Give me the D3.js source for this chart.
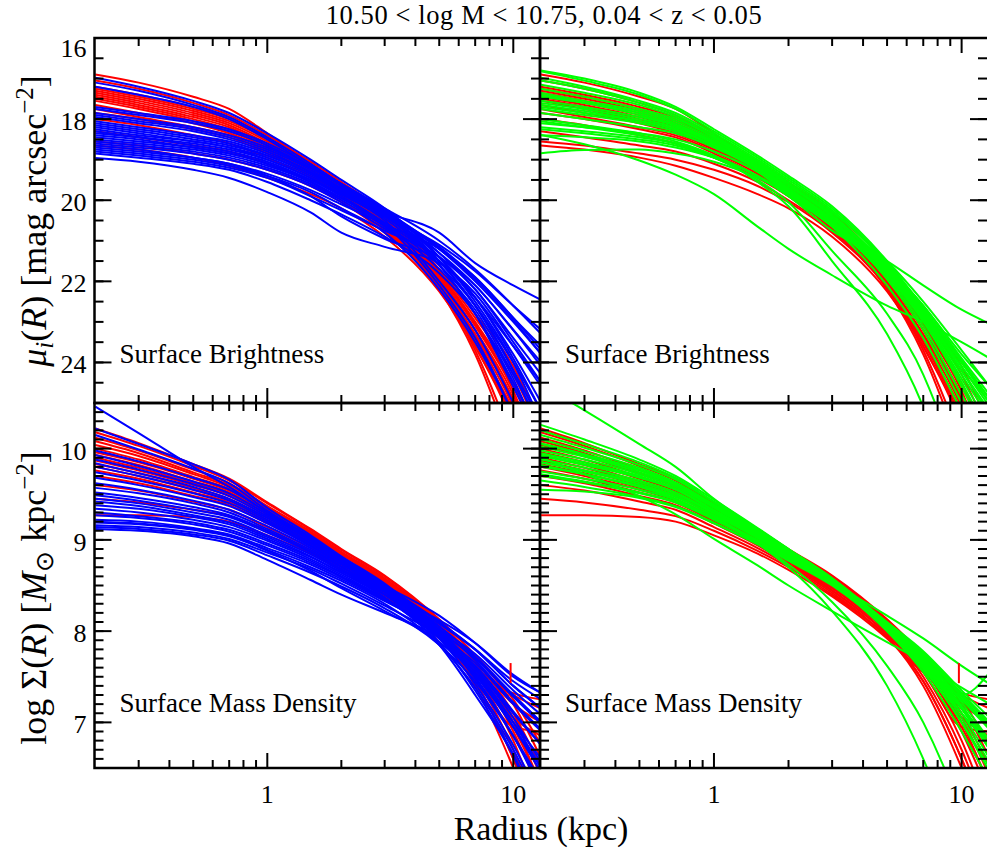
<!DOCTYPE html>
<html>
<head>
<meta charset="utf-8">
<script src="https://cdn.jsdelivr.net/npm/d3@7"></script>
<style>
body { margin: 0; background: #fff; overflow: hidden; }
svg { display: block; font-family: "Liberation Serif", "Times New Roman", serif; }
</style>
</head>
<body>
<div id="chart"></div>
<script>
// Size of the whole picture
var width = 987;
var height = 850;

var radius = [0.2, 0.3, 0.5, 0.7, 1, 1.5, 2, 3, 5, 7, 10, 13];

// Surface brightness profiles, mag arcsec^-2
var redSB = [
  [16.90,17.10,17.45,17.75,18.35,19.10,19.60,20.35,21.75,22.90,24.30,25.80],
  [17.05,17.25,17.60,17.90,18.40,19.05,19.55,20.30,21.70,22.80,24.10,25.60],
  [17.20,17.40,17.70,17.95,18.45,19.10,19.60,20.40,21.80,23.00,24.50,26.00],
  [17.25,17.45,17.75,18.00,18.50,19.15,19.65,20.45,21.85,23.10,24.70,26.50],
  [17.30,17.50,17.80,18.05,18.50,19.15,19.70,20.50,21.90,23.20,25.00,27.00],
  [17.35,17.55,17.85,18.10,18.55,19.20,19.70,20.50,21.85,23.05,24.60,26.00],
  [17.40,17.60,17.90,18.15,18.60,19.20,19.75,20.55,22.00,23.40,25.30,27.00],
  [17.45,17.65,17.95,18.20,18.65,19.25,19.75,20.55,21.95,23.20,24.80,26.50],
  [17.50,17.70,18.00,18.25,18.65,19.25,19.80,20.60,22.05,23.50,25.50,28.00],
  [17.55,17.75,18.05,18.30,18.70,19.30,19.80,20.60,22.00,23.30,24.90,26.50],
  [17.65,17.85,18.10,18.35,18.75,19.30,19.85,20.65,22.10,23.60,25.60,28.00],
  [17.75,17.95,18.20,18.40,18.80,19.35,19.85,20.65,22.05,23.35,25.00,27.00],
  [17.85,18.00,18.25,18.45,18.85,19.40,19.90,20.70,22.15,23.70,26.00,28.00],
  [18.00,18.15,18.40,18.60,18.95,19.45,19.90,20.70,22.10,23.40,25.10,27.00],
  [18.30,18.45,18.65,18.80,19.10,19.55,20.00,20.75,22.20,23.80,26.20,28.00],
  [18.55,18.65,18.85,19.00,19.25,19.65,20.05,20.80,22.15,23.50,25.20,27.00],
  [18.65,18.75,18.95,19.15,19.45,19.85,20.20,20.90,22.25,23.60,25.40,27.00]
];

var blueSB = [
  [16.98,17.20,17.55,17.85,18.35,19.00,19.50,20.20,21.40,22.50,24.00,25.50],
  [17.10,17.30,17.65,17.95,18.45,19.10,19.60,20.35,21.60,22.80,24.40,26.00],
  [17.20,17.40,17.70,18.00,18.50,19.15,19.60,20.30,21.50,22.60,24.20,25.80],
  [17.70,17.85,18.05,18.25,18.60,19.15,19.60,20.25,21.20,22.00,23.00,23.80],
  [17.75,17.90,18.10,18.30,18.65,19.20,19.65,20.30,21.30,22.20,23.40,24.30],
  [17.85,18.00,18.20,18.40,18.70,19.20,19.60,20.20,21.00,21.70,22.60,23.30],
  [17.90,18.05,18.25,18.45,18.75,19.25,19.70,20.35,21.40,22.40,23.80,25.00],
  [17.95,18.10,18.30,18.50,18.80,19.30,19.70,20.30,21.15,21.90,22.90,23.70],
  [18.05,18.20,18.40,18.55,18.85,19.30,19.75,20.40,21.50,22.60,24.20,25.50],
  [18.10,18.25,18.45,18.60,18.90,19.35,19.75,20.35,21.20,21.95,22.95,23.80],
  [18.15,18.30,18.50,18.65,18.90,19.35,19.80,20.45,21.60,22.80,24.60,26.00],
  [18.20,18.35,18.55,18.70,18.95,19.40,19.80,20.40,21.30,22.10,23.20,24.10],
  [18.25,18.40,18.55,18.70,19.00,19.45,19.85,20.50,22.00,23.20,25.00,26.50],
  [18.30,18.45,18.60,18.75,19.00,19.45,19.85,20.40,21.10,21.75,22.60,23.20],
  [18.35,18.45,18.65,18.80,19.05,19.50,19.90,20.55,21.50,22.40,23.60,24.50],
  [18.40,18.50,18.70,18.85,19.10,19.55,19.95,20.60,22.10,23.40,25.30,27.00],
  [18.45,18.55,18.70,18.85,19.10,19.50,19.85,20.30,20.80,21.55,22.10,22.46],
  [18.50,18.60,18.75,18.90,19.15,19.55,19.95,20.60,21.60,22.60,24.00,25.20],
  [18.55,18.65,18.80,18.95,19.20,19.60,20.00,20.65,21.70,22.70,24.30,25.60],
  [18.60,18.70,18.85,19.00,19.25,19.65,20.05,20.70,21.40,22.10,23.20,24.00],
  [18.70,18.80,18.95,19.10,19.35,19.75,20.10,20.60,21.20,21.90,22.90,23.60],
  [18.75,18.85,19.00,19.15,19.40,19.80,20.20,20.80,22.20,23.50,25.30,27.00],
  [18.80,18.90,19.05,19.20,19.45,19.90,20.25,20.75,21.40,22.20,23.50,24.50],
  [18.85,18.95,19.10,19.25,19.55,20.00,20.35,20.90,21.80,22.80,24.50,25.80],
  [18.96,19.05,19.25,19.45,19.80,20.30,20.80,21.15,21.55,22.30,23.60,24.60],
  [18.65,18.75,18.95,19.10,19.40,19.90,20.40,20.95,21.50,22.40,23.90,25.20]
];

var greenSB = [
  [16.82,17.05,17.40,17.75,18.30,18.95,19.45,20.20,21.55,22.70,24.00,25.00],
  [16.98,17.20,17.55,17.85,18.35,19.00,19.50,20.25,21.60,22.75,24.10,25.10],
  [17.05,17.25,17.60,17.90,18.40,19.05,19.55,20.30,21.50,22.50,23.70,24.60],
  [17.15,17.35,17.65,17.95,18.45,19.05,19.60,20.35,21.65,22.80,24.20,25.30],
  [17.25,17.45,17.75,18.00,18.45,19.10,19.60,20.40,21.60,22.60,23.80,24.60],
  [17.35,17.55,17.80,18.05,18.50,19.10,19.65,20.40,21.70,22.85,24.30,25.40],
  [17.45,17.60,17.85,18.10,18.55,19.15,19.70,20.45,21.65,22.70,24.00,24.90],
  [17.55,17.70,17.95,18.15,18.55,19.15,19.70,20.50,21.75,22.90,24.40,25.60],
  [17.60,17.75,18.00,18.20,18.60,19.20,19.75,20.50,21.70,22.75,24.10,25.00],
  [17.70,17.85,18.05,18.25,18.65,19.20,19.75,20.55,21.80,22.95,24.50,25.80],
  [17.75,17.90,18.10,18.30,18.65,19.25,19.80,20.55,21.65,22.60,23.90,24.80],
  [17.85,18.00,18.20,18.35,18.70,19.25,19.80,20.60,21.85,23.00,24.60,26.00],
  [18.10,18.20,18.35,18.50,18.80,19.30,19.85,20.60,21.70,22.70,24.00,24.90],
  [18.20,18.30,18.45,18.60,18.90,19.40,19.90,20.75,21.50,22.10,22.70,23.05],
  [18.40,18.45,18.55,18.70,18.95,19.40,19.85,20.60,21.75,22.80,24.20,25.20],
  [18.84,18.76,18.75,18.85,19.05,19.45,19.85,20.55,21.70,22.80,24.20,25.30],
  [18.39,18.62,19.02,19.37,19.85,20.65,21.20,21.85,22.60,23.00,23.50,23.90],
  [18.00,18.15,18.35,18.55,18.90,19.55,20.15,21.50,23.30,25.10,28.00,31.00],
  [18.05,18.20,18.40,18.60,18.95,19.50,20.05,21.25,22.80,24.30,27.00,30.00],
  [17.40,17.60,17.90,18.15,18.60,19.25,19.80,20.65,22.10,23.40,25.20,26.50],
  [17.65,17.80,18.05,18.25,18.65,19.25,19.80,20.60,21.95,23.20,25.00,26.30],
  [18.25,18.35,18.50,18.65,18.95,19.40,19.90,20.65,21.90,23.10,24.80,26.00],
  [16.80,17.00,17.35,17.70,18.25,18.90,19.40,20.15,21.50,22.65,23.95,24.90]
];

// Surface mass density profiles, log M_sun kpc^-2
var redMass = [
  [10.22,10.06,9.83,9.67,9.41,9.12,8.90,8.61,8.13,7.73,7.20,6.60],
  [10.18,10.03,9.81,9.65,9.40,9.11,8.89,8.60,8.12,7.74,7.25,6.75],
  [10.12,9.98,9.77,9.62,9.37,9.09,8.87,8.58,8.10,7.68,7.10,6.50],
  [10.08,9.95,9.74,9.60,9.36,9.08,8.86,8.57,8.08,7.65,7.00,6.30],
  [10.04,9.92,9.72,9.58,9.34,9.07,8.85,8.55,8.05,7.60,6.90,6.20],
  [10.00,9.88,9.69,9.56,9.33,9.06,8.84,8.55,8.07,7.68,7.20,7.00],
  [9.96,9.85,9.67,9.54,9.31,9.04,8.82,8.53,8.02,7.55,6.80,6.00],
  [9.93,9.82,9.64,9.52,9.29,9.03,8.81,8.52,8.04,7.62,7.05,6.40],
  [9.90,9.79,9.62,9.50,9.28,9.02,8.80,8.50,8.00,7.50,6.70,5.90],
  [9.87,9.76,9.60,9.48,9.26,9.00,8.79,8.50,8.02,7.60,7.05,6.85],
  [9.83,9.73,9.57,9.45,9.24,8.99,8.78,8.48,7.98,7.45,6.60,5.80],
  [9.80,9.70,9.55,9.43,9.22,8.98,8.77,8.47,8.00,7.58,6.95,6.30],
  [9.76,9.67,9.52,9.41,9.20,8.96,8.76,8.45,7.95,7.40,6.50,5.70],
  [9.70,9.62,9.48,9.38,9.18,8.94,8.74,8.44,7.97,7.55,6.95,6.90],
  [9.60,9.54,9.42,9.33,9.14,8.91,8.72,8.42,7.93,7.45,6.60,5.80],
  [9.45,9.41,9.33,9.26,9.10,8.88,8.70,8.40,7.95,7.60,7.30,7.15],
  [9.27,9.27,9.25,9.20,9.05,8.85,8.67,8.38,7.92,7.55,7.32,7.25]
];

var blueMass = [
  [10.46,10.17,9.80,9.58,9.30,9.02,8.80,8.50,7.98,7.50,6.85,6.25],
  [10.22,10.05,9.83,9.66,9.35,9.05,8.82,8.52,8.02,7.60,7.05,6.55],
  [10.15,9.99,9.78,9.62,9.32,9.03,8.80,8.50,8.00,7.58,7.00,6.50],
  [9.98,9.86,9.68,9.55,9.30,9.02,8.80,8.50,8.10,7.80,7.40,7.15],
  [9.93,9.81,9.64,9.51,9.28,9.00,8.78,8.48,8.05,7.72,7.30,7.00],
  [9.88,9.77,9.61,9.48,9.26,8.99,8.78,8.50,8.17,7.87,7.50,7.32],
  [9.84,9.73,9.58,9.45,9.24,8.97,8.76,8.47,7.98,7.55,6.95,6.45],
  [9.80,9.70,9.55,9.43,9.22,8.96,8.76,8.48,8.10,7.80,7.40,7.15],
  [9.74,9.65,9.51,9.40,9.20,8.94,8.74,8.45,7.95,7.48,6.85,6.30],
  [9.68,9.60,9.47,9.37,9.18,8.93,8.73,8.45,8.05,7.72,7.30,7.00],
  [9.62,9.55,9.43,9.33,9.15,8.91,8.71,8.43,7.92,7.42,6.75,6.15],
  [9.57,9.51,9.40,9.30,9.12,8.89,8.70,8.43,8.02,7.68,7.22,6.92],
  [9.52,9.46,9.36,9.27,9.10,8.87,8.68,8.40,7.88,7.35,6.65,6.00],
  [9.49,9.43,9.33,9.25,9.08,8.86,8.68,8.43,8.08,7.80,7.45,7.25],
  [9.45,9.40,9.30,9.22,9.05,8.84,8.66,8.40,7.98,7.60,7.10,6.75],
  [9.42,9.37,9.27,9.19,9.03,8.82,8.64,8.37,7.85,7.30,6.63,5.90],
  [9.38,9.34,9.25,9.17,9.01,8.81,8.64,8.40,8.12,7.87,7.52,7.32],
  [9.34,9.30,9.22,9.14,8.99,8.79,8.62,8.36,7.95,7.55,7.00,6.60],
  [9.30,9.26,9.19,9.11,8.96,8.77,8.60,8.35,7.92,7.52,6.95,6.50],
  [9.27,9.24,9.17,9.09,8.94,8.75,8.59,8.34,8.00,7.70,7.28,6.98],
  [9.22,9.20,9.13,9.06,8.91,8.73,8.57,8.33,8.02,7.75,7.35,7.08],
  [9.19,9.17,9.11,9.04,8.89,8.70,8.55,8.30,7.85,7.38,6.70,6.10],
  [9.16,9.14,9.08,9.01,8.86,8.68,8.52,8.28,7.95,7.65,7.20,6.90],
  [9.14,9.12,9.06,8.99,8.83,8.64,8.49,8.25,7.85,7.45,6.85,6.35],
  [9.12,9.10,9.04,8.96,8.78,8.56,8.40,8.20,7.93,7.62,7.12,6.75],
  [9.20,9.18,9.12,9.05,8.88,8.66,8.47,8.22,7.88,7.52,6.95,6.45]
];

var greenMass = [
  [10.26,10.10,9.88,9.70,9.44,9.13,8.90,8.57,8.05,7.65,7.15,6.70],
  [10.20,10.05,9.85,9.68,9.42,9.12,8.89,8.57,8.07,7.70,7.22,6.80],
  [10.15,10.01,9.82,9.66,9.41,9.11,8.89,8.58,8.10,7.78,7.35,7.05],
  [10.10,9.97,9.79,9.63,9.39,9.10,8.88,8.56,8.05,7.68,7.18,6.75],
  [10.06,9.94,9.77,9.62,9.38,9.09,8.88,8.57,8.09,7.75,7.30,6.98],
  [10.02,9.91,9.74,9.60,9.36,9.08,8.87,8.55,8.05,7.66,7.15,6.70],
  [9.98,9.88,9.72,9.58,9.35,9.07,8.86,8.56,8.08,7.74,7.28,6.95],
  [9.95,9.85,9.70,9.56,9.33,9.06,8.85,8.54,8.03,7.64,7.10,6.60],
  [9.92,9.82,9.68,9.55,9.32,9.05,8.85,8.55,8.07,7.72,7.25,6.92],
  [9.88,9.79,9.65,9.52,9.30,9.04,8.84,8.53,8.02,7.62,7.05,6.55],
  [9.85,9.76,9.63,9.50,9.29,9.03,8.83,8.53,8.07,7.76,7.32,7.00],
  [9.80,9.72,9.59,9.47,9.27,9.02,8.82,8.52,8.00,7.58,7.00,6.45],
  [9.75,9.67,9.55,9.44,9.24,9.00,8.81,8.52,8.05,7.70,7.25,6.95],
  [9.70,9.63,9.51,9.41,9.22,8.98,8.79,8.53,8.17,7.92,7.62,7.42],
  [9.65,9.58,9.47,9.37,9.19,8.96,8.78,8.51,8.03,7.65,7.15,6.80],
  [9.55,9.53,9.46,9.36,9.18,8.95,8.77,8.50,8.02,7.62,7.10,6.75],
  [9.90,9.72,9.48,9.28,9.01,8.72,8.50,8.22,7.88,7.66,7.38,7.20],
  [9.85,9.75,9.61,9.48,9.26,8.96,8.70,8.22,7.40,6.60,5.50,4.50],
  [9.82,9.72,9.58,9.45,9.24,8.96,8.73,8.32,7.62,7.00,6.00,5.00],
  [10.05,9.93,9.76,9.61,9.37,9.08,8.87,8.55,8.00,7.55,6.90,6.35],
  [9.93,9.83,9.69,9.55,9.32,9.05,8.84,8.54,8.01,7.60,7.00,6.50],
  [9.72,9.64,9.52,9.42,9.23,8.99,8.80,8.52,8.04,7.68,7.30,7.55],
  [10.70,10.42,10.05,9.80,9.45,9.12,8.90,8.58,8.07,7.68,7.18,6.72]
];

// little vertical glitch at the end of one red mass profile
var spikeR = [9.75, 9.75];
var spikeMass = [7.65, 7.43];

// Axes
var xDomain = [0.1984, 12.84];
var xMajor = [1, 10];
var xMinor = [0.3, 0.4, 0.5, 0.6, 0.7, 0.8, 0.9, 2, 3, 4, 5, 6, 7, 8, 9];
var xTickLabels = ["1", "10"];
var sbDomain = [16, 25];
var sbMajor = [16, 18, 20, 22, 24];
var massDomain = [6.5, 10.5];
var massMajor = [7, 8, 9, 10];

var titleText = "10.50 < log M < 10.75, 0.04 < z < 0.05";

var red = "#ff0000", blue = "#0000ff", green = "#00ff00";

// Create SVG
var svg = d3.select("#chart")
  .append("svg")
  .attr("width", width)
  .attr("height", height)
  .attr("font-family", "Liberation Serif, Times New Roman, serif");

svg.append("rect").attr("width", width).attr("height", height).attr("fill", "#fff");

// right panel runs a little past the picture edge, as in the original
var cols = [{x0: 94.5, x1: 540}, {x0: 540, x1: 988.5}];
var rows = [{y0: 38, y1: 403}, {y0: 403, y1: 768}];

var panels = [
  {c: 0, r: 0, sets: [[redSB, red], [blueSB, blue]], label: "Surface Brightness"},
  {c: 1, r: 0, sets: [[redSB, red], [greenSB, green]], label: "Surface Brightness"},
  {c: 0, r: 1, sets: [[redMass, red], [blueMass, blue]], label: "Surface Mass Density"},
  {c: 1, r: 1, sets: [[redMass, red], [greenMass, green]], label: "Surface Mass Density"}
];

panels.forEach(function(p, k) {
  var c = cols[p.c], r = rows[p.r];

  var x = d3.scaleLog().domain(xDomain).range([c.x0, c.x1]);
  var y = p.r == 0
    ? d3.scaleLinear().domain(sbDomain).range([r.y0, r.y1])
    : d3.scaleLinear().domain(massDomain).range([r.y1, r.y0]);

  var clipId = "clip" + k;
  svg.append("clipPath").attr("id", clipId)
    .append("rect")
    .attr("x", c.x0).attr("y", r.y0)
    .attr("width", c.x1 - c.x0).attr("height", r.y1 - r.y0);

  var g = svg.append("g").attr("clip-path", "url(#" + clipId + ")");

  var line = d3.line()
    .x(function(d, i) { return x(radius[i]); })
    .y(function(d) { return y(d); })
    .curve(d3.curveMonotoneX);

  p.sets.forEach(function(s) {
    g.append("g")
      .selectAll("path")
      .data(s[0])
      .enter().append("path")
      .attr("d", line)
      .attr("fill", "none")
      .attr("stroke", s[1])
      .attr("stroke-width", 2);
  });

  if (p.r == 1) {
    g.append("line")
      .attr("x1", x(spikeR[0])).attr("x2", x(spikeR[1]))
      .attr("y1", y(spikeMass[0])).attr("y2", y(spikeMass[1]))
      .attr("stroke", red).attr("stroke-width", 2);
  }

  // ticks, IDL style: inside on all four sides
  var tk = svg.append("g").attr("stroke", "#000").attr("stroke-width", 2);

  function xTicks(vals, len) {
    vals.forEach(function(v) {
      tk.append("line").attr("x1", x(v)).attr("x2", x(v)).attr("y1", r.y1).attr("y2", r.y1 - len);
      tk.append("line").attr("x1", x(v)).attr("x2", x(v)).attr("y1", r.y0).attr("y2", r.y0 + len);
    });
  }
  xTicks(xMinor, 8);
  xTicks(xMajor, 15);

  var yMajor = p.r == 0 ? sbMajor : massMajor;
  var yMinor = p.r == 0
    ? d3.range(32, 51).map(function(v) { return v / 2; })
    : d3.range(65, 106).map(function(v) { return v / 10; });

  var xr = Math.min(c.x1, width);
  function yTicks(vals, len) {
    vals.forEach(function(v) {
      tk.append("line").attr("x1", c.x0).attr("x2", c.x0 + len).attr("y1", y(v)).attr("y2", y(v));
      tk.append("line").attr("x1", xr).attr("x2", xr - len).attr("y1", y(v)).attr("y2", y(v));
    });
  }
  yTicks(yMinor, 9);
  yTicks(yMajor, 17);

  // frame
  svg.append("rect")
    .attr("x", c.x0).attr("y", r.y0)
    .attr("width", c.x1 - c.x0).attr("height", r.y1 - r.y0)
    .attr("fill", "none").attr("stroke", "#000").attr("stroke-width", 2.5);

  // tick labels
  if (p.c == 0) {
    svg.append("g").selectAll("text")
      .data(yMajor)
      .enter().append("text")
      .attr("x", c.x0 - 8)
      .attr("y", function(d) { return y(d) + (y(d) < r.y0 + 2 ? 10 : 2) + 9; })
      .attr("text-anchor", "end")
      .attr("font-size", 26)
      .text(function(d) { return d; });
  }
  if (p.r == 1) {
    svg.append("g").selectAll("text")
      .data(xMajor)
      .enter().append("text")
      .attr("x", function(d) { return x(d); })
      .attr("y", r.y1 + 35)
      .attr("text-anchor", "middle")
      .attr("font-size", 26)
      .text(function(d, i) { return xTickLabels[i]; });
  }

  svg.append("text")
    .attr("x", c.x0 + 25)
    .attr("y", p.r == 0 ? 363 : 712)
    .attr("font-size", 27)
    .text(p.label);
});

// Title
svg.append("text")
  .attr("x", 544)
  .attr("y", 24)
  .attr("text-anchor", "middle")
  .attr("font-size", 26.5)
  .attr("letter-spacing", 0.6)
  .text(titleText);

// x axis title
svg.append("text")
  .attr("x", 541)
  .attr("y", 840)
  .attr("text-anchor", "middle")
  .attr("font-size", 34)
  .text("Radius (kpc)");

// y axis titles
var yt1 = svg.append("text")
  .attr("transform", "translate(46,221) rotate(-90)")
  .attr("text-anchor", "middle")
  .attr("font-size", 36);
yt1.append("tspan").attr("font-style", "italic").text("μ");
yt1.append("tspan").attr("font-style", "italic").attr("font-size", 25).attr("dy", 7).text("i");
yt1.append("tspan").attr("dy", -7).text("(");
yt1.append("tspan").attr("font-style", "italic").text("R");
yt1.append("tspan").text(") [mag arcsec");
yt1.append("tspan").attr("font-size", 25).attr("dy", -13).text("−2");
yt1.append("tspan").attr("dy", 13).text("]");

var yt2 = svg.append("text")
  .attr("transform", "translate(46,598) rotate(-90)")
  .attr("text-anchor", "middle")
  .attr("font-size", 36);
yt2.append("tspan").text("log Σ(");
yt2.append("tspan").attr("font-style", "italic").text("R");
yt2.append("tspan").text(") [");
yt2.append("tspan").attr("font-style", "italic").text("M");
yt2.append("tspan").attr("font-size", 25).attr("dy", 7).text("⊙");
yt2.append("tspan").attr("dy", -7).text(" kpc");
yt2.append("tspan").attr("font-size", 25).attr("dy", -13).text("−2");
yt2.append("tspan").attr("dy", 13).text("]");
</script>
</body>
</html>
